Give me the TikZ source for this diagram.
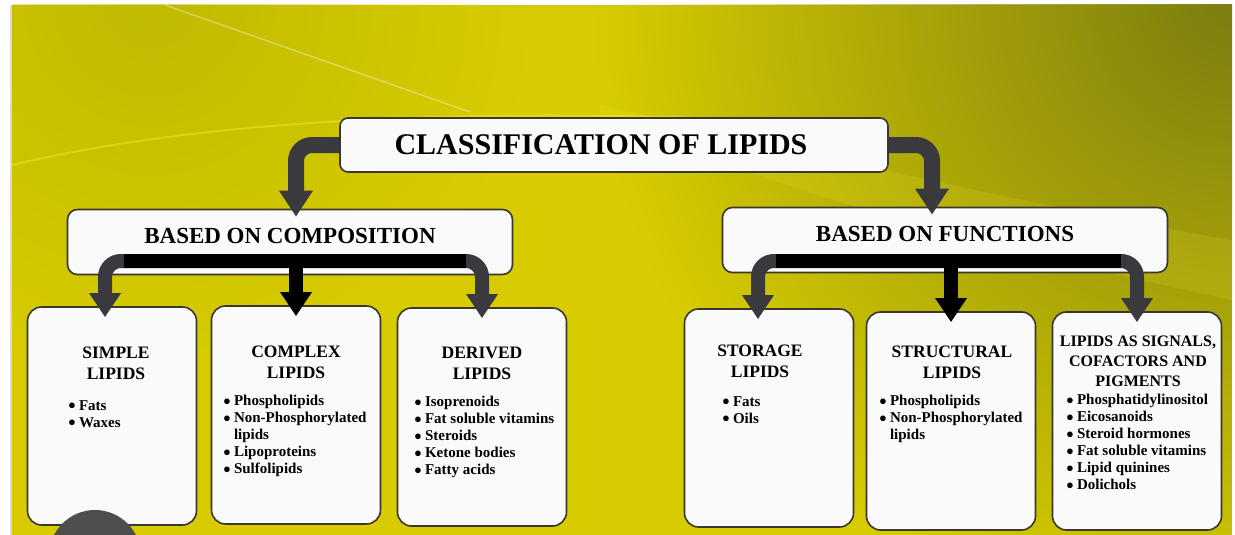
\documentclass[tikz,border=0pt]{standalone}
\usepackage{fontspec}
\setmainfont{Liberation Serif}
\usetikzlibrary{positioning,arrows.meta,fadings}

\definecolor{bgyellow}{HTML}{D8CC00}
\definecolor{bgolive}{HTML}{7C7E10}
\definecolor{bgshade}{HTML}{A8A800}
\definecolor{boxfill}{HTML}{FAFAFA}
\definecolor{boxline}{HTML}{3A3630}
\definecolor{pipegray}{HTML}{3A3A3E}
\definecolor{badgegray}{HTML}{4E4E4E}

\tikzfading[name=cornerfade, inner color=transparent!0, outer color=transparent!100]

\newcommand{\itm}{{\fontsize{13}{13}\selectfont\raisebox{0.5pt}{●}}\hspace{3pt}}

\begin{document}
\begin{tikzpicture}[x=1pt,y=-1pt,
  topbox/.style={rectangle, draw=boxline, line width=1.6pt, fill=boxfill, rounded corners=8pt, minimum width=548pt, minimum height=54pt, font=\fontsize{30}{34}\selectfont\bfseries},
  groupbox/.style={rectangle, draw=boxline, line width=1.6pt, fill=boxfill, rounded corners=10pt, minimum width=445pt, minimum height=65pt, text depth=13pt, font=\fontsize{23}{27}\selectfont\bfseries},
  leafbox/.style={rectangle, draw=boxline, line width=1.6pt, fill=boxfill, rounded corners=14pt, minimum width=169pt, minimum height=218pt},
  leafhead/.style={inner sep=0pt, align=center, font=\fontsize{17.5}{21}\selectfont\bfseries},
  leaflist/.style={inner sep=0pt, anchor=north west, align=left, font=\fontsize{15}{17}\selectfont\bfseries},
  pipe/.style={draw=pipegray, line width=14pt, rounded corners=16pt, -{Triangle[width=30pt,length=24pt]}, shorten >=-11pt},
  bar/.style={draw=black, line width=14pt}
]
  \useasboundingbox (0,0) rectangle (1235,535);

  % background
  \fill[white] (0,0) rectangle (1235,535);
  \fill[black!15] (10,5) rectangle (12,535);
  \begin{scope}
    \clip (12,5) rectangle (1232,535);
    \fill[bgyellow] (12,5) rectangle (1232,535);
    \fill[bgolive, path fading=cornerfade] (1235,0) circle (640);
    \fill[bgshade, opacity=0.5, path fading=cornerfade] (150,0) circle (380);
    \draw[white, opacity=0.35, line width=1.5pt] (165,5) -- (470,112);
    \draw[yellow!70!white, opacity=0.35, line width=2pt] (12,165) .. controls (200,120) and (450,110) .. (700,118);
    \fill[yellow!80!white, opacity=0.12] (600,105) .. controls (800,150) and (1000,200) .. (1232,240) -- (1232,300) .. controls (1000,250) and (800,200) .. (600,115) -- cycle;
  \end{scope}

  % boxes
  \node[topbox] (title) at (614,145) {CLASSIFICATION OF LIPIDS\hspace*{26pt}};
  \node[groupbox] (comp) at (290,242) {BASED ON COMPOSITION};
  \node[groupbox] (func) at (945,240) {BASED ON FUNCTIONS};

  \node[leafbox] (simple) at (112,416) {};
  \node[leafbox] (complex) at (296,415) {};
  \node[leafbox] (derived) at (482,417) {};
  \node[leafbox] (storage) at (769,418) {};
  \node[leafbox] (structural) at (951,421) {};
  \node[leafbox] (signals) at (1137,421) {};

  % box texts
  \node[leafhead] (simplehead) at (116,363) {SIMPLE\\LIPIDS};
  \node[leafhead] (complexhead) at (296,362) {COMPLEX\\LIPIDS};
  \node[leafhead] (derivedhead) at (482,363) {DERIVED\\LIPIDS};
  \node[leafhead] (storagehead) at (760,361) {STORAGE\\LIPIDS};
  \node[leafhead] (structuralhead) at (952,362) {STRUCTURAL\\LIPIDS};
  \node[leafhead, font=\fontsize{16}{20}\selectfont\bfseries] (signalshead) at (1138,361) {LIPIDS AS SIGNALS,\\COFACTORS AND\\PIGMENTS};

  \node[leaflist] (simplelist) at (68,400) {\itm Fats\\\itm Waxes};
  \node[leaflist] (complexlist) at (223,395) {\itm Phospholipids\\\itm Non-Phosphorylated\\\hphantom{\itm}lipids\\\itm Lipoproteins\\\itm Sulfolipids};
  \node[leaflist] (derivedlist) at (414,396) {\itm Isoprenoids\\\itm Fat soluble vitamins\\\itm Steroids\\\itm Ketone bodies\\\itm Fatty acids};
  \node[leaflist] (storagelist) at (722,396) {\itm Fats\\\itm Oils};
  \node[leaflist] (structurallist) at (879,395) {\itm Phospholipids\\\itm Non-Phosphorylated\\\hphantom{\itm}lipids};
  \node[leaflist] (signalslist) at (1066,394) {\itm Phosphatidylinositol\\\itm Eicosanoids\\\itm Steroid hormones\\\itm Fat soluble vitamins\\\itm Lipid quinines\\\itm Dolichols};

  % connectors
  \coordinate (compfork) at (296,261);
  \coordinate (funcfork) at (951,261);

  \draw[pipe, line width=16pt, -{Triangle[width=32pt,length=26pt]}, shorten >=-8pt] (title.west) -| ([xshift=6pt]comp.north);
  \draw[pipe, line width=16pt, -{Triangle[width=32pt,length=26pt]}, shorten >=-8pt] (title.east) -| ([xshift=-13pt]func.north);

  \draw[pipe] (compfork) -| ([xshift=-7pt]simple.north);
  \draw[pipe] (compfork) -| (derived.north);
  \draw[bar] (124,261) -- (466,261);
  \draw[pipe, draw=black] (compfork) -- (complex.north);

  \draw[pipe] (funcfork) -| ([xshift=-11pt]storage.north);
  \draw[pipe] (funcfork) -| (signals.north);
  \draw[bar] (776,261) -- (1121,261);
  \draw[pipe, draw=black] (funcfork) -- (structural.north);

  % video badge
  \begin{scope}
    \clip (0,0) rectangle (1235,535);
    \fill[badgegray] (95,556) circle (46);
  \end{scope}
\end{tikzpicture}
\end{document}
